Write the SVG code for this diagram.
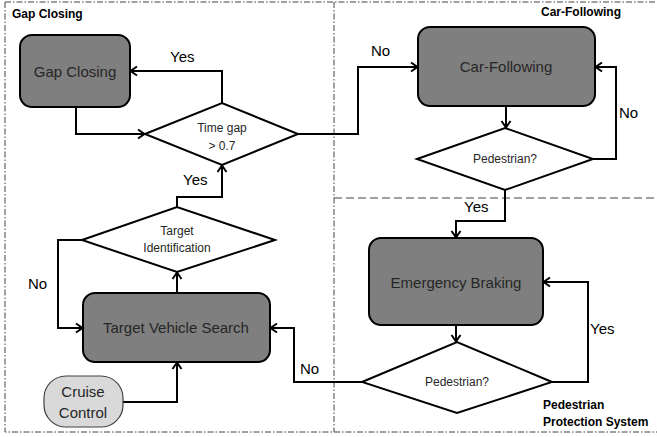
<svg xmlns="http://www.w3.org/2000/svg" width="657" height="437" viewBox="0 0 657 437">
<defs>
<marker id="arr" markerWidth="12" markerHeight="12" refX="9" refY="6" orient="auto" markerUnits="userSpaceOnUse">
<path d="M3,1.5 L9.5,6 L3,10.5" fill="none" stroke="#000" stroke-width="2"/>
</marker>
<style>
.box{fill:#7f7f7f;stroke:#000;stroke-width:2}
.dia{fill:#fff;stroke:#000;stroke-width:2}
.cc{fill:#d9d9d9;stroke:#404040;stroke-width:1.2}
.t{font-family:"Liberation Sans",Arial,sans-serif;fill:#262626;text-anchor:middle}
.big{font-size:15px}
.sm{font-size:12px}
.lbl{font-family:"Liberation Sans",Arial,sans-serif;font-size:15px;fill:#000}
.sec{font-family:"Liberation Sans",Arial,sans-serif;font-size:12px;font-weight:bold;fill:#000}
.edge{fill:none;stroke:#000;stroke-width:2;marker-end:url(#arr)}
.dd{fill:none;stroke:#444;stroke-width:1;stroke-dasharray:6,2,1.5,2}
.dash{fill:none;stroke:#444;stroke-width:1;stroke-dasharray:8,4}
</style>
</defs>
<g id="frames">
<path class="dd" d="M5,2 H657 M5,2 V432 H657 M334,2 V432"/>
<path class="dash" d="M334,198 H657"/>
<text class="sec" x="12" y="18">Gap Closing</text>
<text class="sec" x="541" y="16">Car-Following</text>
<text class="sec" x="543" y="409">Pedestrian</text>
<text class="sec" x="543" y="426">Protection System</text>
</g>
<g id="connectors">
<path class="edge" d="M222,103 V71 H131"/>
<path class="edge" d="M76,107 V134 H144"/>
<path class="edge" d="M298,134 H358 V67 H417"/>
<path class="edge" d="M506,106 V127"/>
<path class="edge" d="M593,159 H616 V67 H596"/>
<path class="edge" d="M505,190 V221 H456 V237"/>
<path class="edge" d="M456,325 V341"/>
<path class="edge" d="M552,382 H588 V282 H544"/>
<path class="edge" d="M362,382 H294 V328 H271"/>
<path class="edge" d="M177,293 V273"/>
<path class="edge" d="M177,207 V197 H222 V166"/>
<path class="edge" d="M82,240 H58 V328 H82"/>
<path class="edge" d="M123,402 H177 V363"/>
<text class="lbl" x="170" y="62">Yes</text>
<text class="lbl" x="371" y="56">No</text>
<text class="lbl" x="619" y="118">No</text>
<text class="lbl" x="464" y="212">Yes</text>
<text class="lbl" x="590" y="334">Yes</text>
<text class="lbl" x="300" y="374">No</text>
<text class="lbl" x="183" y="185">Yes</text>
<text class="lbl" x="28" y="289">No</text>
</g>
<g id="gap-closing">
<rect class="box" x="20" y="35" width="110" height="72" rx="12"/>
<text class="t big" x="75" y="77">Gap Closing</text>
</g>
<g id="time-gap">
<polygon class="dia" points="145,134 222,103 298,134 222,165"/>
<text class="t sm" x="222" y="132">Time gap</text>
<text class="t sm" x="222" y="150">&gt; 0.7</text>
</g>
<g id="car-following">
<rect class="box" x="418" y="27" width="177" height="79" rx="12"/>
<text class="t big" x="506" y="72">Car-Following</text>
</g>
<g id="pedestrian-1">
<polygon class="dia" points="417,159 505,128 593,159 505,190"/>
<text class="t sm" x="505" y="163">Pedestrian?</text>
</g>
<g id="emergency-braking">
<rect class="box" x="369" y="238" width="174" height="87" rx="12"/>
<text class="t big" x="456" y="288">Emergency Braking</text>
</g>
<g id="pedestrian-2">
<polygon class="dia" points="362,382 457,342 552,382 457,413"/>
<text class="t sm" x="457" y="386">Pedestrian?</text>
</g>
<g id="target-identification">
<polygon class="dia" points="82,240 177,207 275,240 177,272"/>
<text class="t sm" x="177" y="235">Target</text>
<text class="t sm" x="177" y="252">Identification</text>
</g>
<g id="target-vehicle-search">
<rect class="box" x="83" y="293" width="187" height="69" rx="12"/>
<text class="t big" x="176" y="333">Target Vehicle Search</text>
</g>
<g id="cruise-control">
<rect class="cc" x="44" y="376" width="79" height="51" rx="22"/>
<text class="t big" x="83" y="397">Cruise</text>
<text class="t big" x="83" y="418">Control</text>
</g>
</svg>
